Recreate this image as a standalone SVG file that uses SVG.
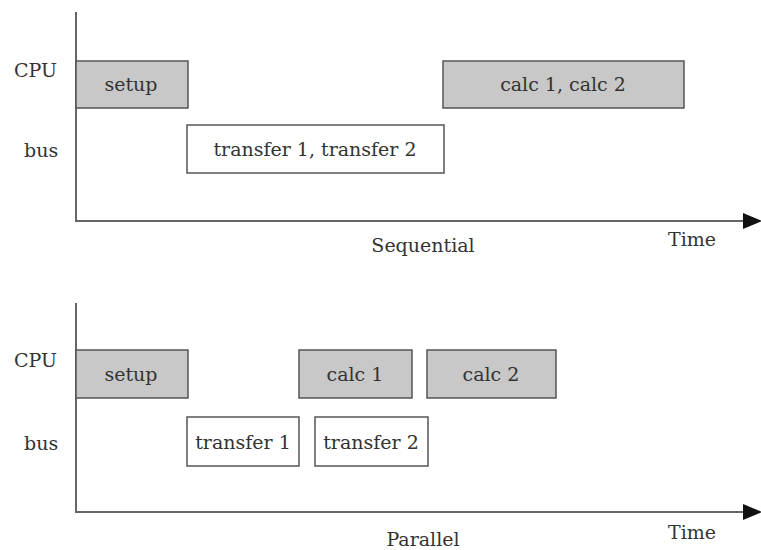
<svg xmlns="http://www.w3.org/2000/svg" width="761" height="550" viewBox="0 0 761 550">
<style>
text{font-family:"DejaVu Serif","Liberation Serif",serif;font-size:19px;fill:#333}
.c{text-anchor:middle}
.cpu rect{fill:#c8c8c8;stroke:#555;stroke-width:1.5}
.bus rect{fill:#fff;stroke:#555;stroke-width:1.5}
.axis{stroke:#666;stroke-width:2;fill:none}
.head{fill:#111}
</style>
<rect width="761" height="550" fill="#fff"/>
<g id="connectors">
<path class="axis" d="M76,12V221H746"/>
<polygon class="head" points="743,213 762,221 743,229"/>
<path class="axis" d="M76,303V512H746"/>
<polygon class="head" points="743,504 762,512 743,520"/>
</g>
<g id="labels">
<text x="14" y="77">CPU</text>
<text x="24" y="157">bus</text>
<text class="c" x="423" y="252">Sequential</text>
<text x="668" y="246">Time</text>
<text x="14" y="367">CPU</text>
<text x="24" y="450">bus</text>
<text class="c" x="423" y="546">Parallel</text>
<text x="668" y="539">Time</text>
</g>
<g id="seq-setup" class="cpu"><rect x="76" y="61" width="112" height="47"/><text class="c" x="131" y="91">setup</text></g>
<g id="seq-transfer" class="bus"><rect x="187" y="125" width="257" height="48"/><text class="c" x="315" y="156">transfer 1, transfer 2</text></g>
<g id="seq-calc" class="cpu"><rect x="443" y="61" width="241" height="47"/><text class="c" x="563" y="91">calc 1, calc 2</text></g>
<g id="par-setup" class="cpu"><rect x="76" y="350" width="112" height="48"/><text class="c" x="131" y="381">setup</text></g>
<g id="par-calc1" class="cpu"><rect x="299" y="350" width="113" height="48"/><text class="c" x="355" y="381">calc 1</text></g>
<g id="par-calc2" class="cpu"><rect x="427" y="350" width="129" height="48"/><text class="c" x="491" y="381">calc 2</text></g>
<g id="par-transfer1" class="bus"><rect x="187" y="417" width="112" height="49"/><text class="c" x="243" y="449">transfer 1</text></g>
<g id="par-transfer2" class="bus"><rect x="315" y="417" width="113" height="49"/><text class="c" x="371" y="449">transfer 2</text></g>
</svg>
